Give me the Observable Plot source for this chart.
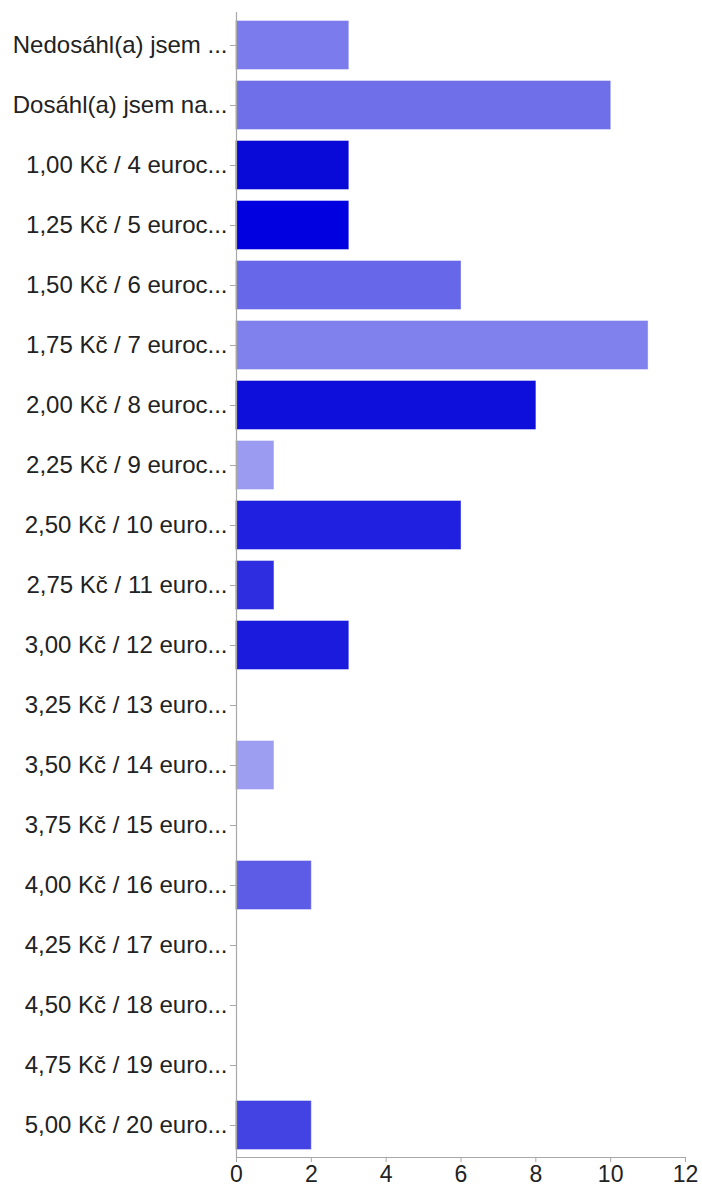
<!DOCTYPE html>
<html>
<head>
<meta charset="utf-8">
<script src="https://cdn.jsdelivr.net/npm/d3@7"></script>
<script src="https://cdn.jsdelivr.net/npm/@observablehq/plot@0.6"></script>
<style>
  html, body { margin: 0; padding: 0; background: #fff; }
  #chart svg { display: block; }
</style>
</head>
<body>
<div id="chart"></div>
<script>
const categories = [
  "Nedosáhl(a) jsem ...",
  "Dosáhl(a) jsem na...",
  "1,00 Kč / 4 euroc...",
  "1,25 Kč / 5 euroc...",
  "1,50 Kč / 6 euroc...",
  "1,75 Kč / 7 euroc...",
  "2,00 Kč / 8 euroc...",
  "2,25 Kč / 9 euroc...",
  "2,50 Kč / 10 euro...",
  "2,75 Kč / 11 euro...",
  "3,00 Kč / 12 euro...",
  "3,25 Kč / 13 euro...",
  "3,50 Kč / 14 euro...",
  "3,75 Kč / 15 euro...",
  "4,00 Kč / 16 euro...",
  "4,25 Kč / 17 euro...",
  "4,50 Kč / 18 euro...",
  "4,75 Kč / 19 euro...",
  "5,00 Kč / 20 euro..."
];
const counts = [3, 10, 3, 3, 6, 11, 8, 1, 6, 1, 3, 0, 1, 0, 2, 0, 0, 0, 2];
const barColors = [
  "#7b7bee", "#6f6fea", "#0a0ad8", "#0000e0", "#6767e9", "#8181ed",
  "#0f0fdc", "#9b9bf1", "#2020e0", "#2e2ee0", "#1b1bde", "#ffffff",
  "#9d9df1", "#ffffff", "#5c5ce6", "#ffffff", "#ffffff", "#ffffff", "#4343e3"
];
const xTicks = [0, 2, 4, 6, 8, 10, 12];

const rows = categories.map((c, i) => ({label: c, value: counts[i], color: barColors[i]}));

const chart = Plot.plot({
  width: 702,
  height: 1189,
  marginLeft: 236,
  marginRight: 17,
  marginTop: 12,
  marginBottom: 32,
  style: {fontFamily: "'Liberation Sans', Arial, Helvetica, sans-serif", fontSize: "24px", color: "#222"},
  x: {domain: [0, 12], ticks: xTicks},
  y: {domain: categories, paddingInner: 0.2, paddingOuter: 0.12, label: null},
  marks: [
    Plot.barX(rows.filter(d => d.value > 0), {x: "value", y: "label", fill: "color", stroke: "color", strokeOpacity: 0.6}),
    Plot.ruleX([0], {stroke: "#a8a8a8", strokeWidth: 1.2}),
    Plot.frame({anchor: "bottom", stroke: "#a8a8a8", strokeWidth: 1.2}),
    Plot.axisX({ticks: xTicks, tickSize: 5, tickPadding: 3, label: null, stroke: "#a8a8a8", fill: "#222", fontSize: 23}),
    Plot.axisY({tickSize: 6, tickPadding: 3, label: null, stroke: "#a8a8a8", fill: "#222", fontSize: 24})
  ]
});
document.getElementById("chart").appendChild(chart);
</script>
</body>
</html>
